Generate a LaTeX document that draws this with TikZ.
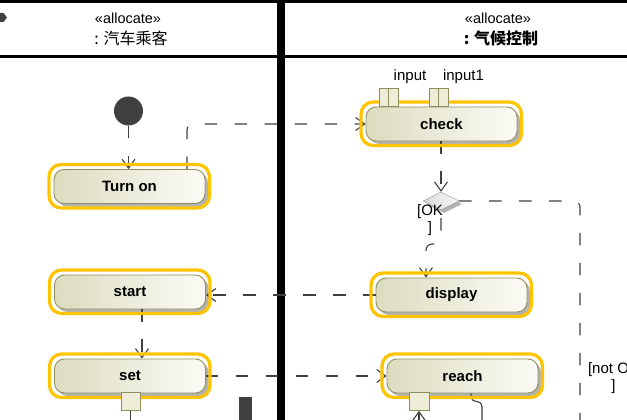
\documentclass[tikz,border=0pt]{standalone}
\usepackage{fontspec}
\setmainfont{Liberation Sans}
\newfontfamily\cjk{Noto Sans CJK SC}
\usepackage{tikz}
\usetikzlibrary{arrows.meta,shadows,shapes.geometric}
\definecolor{hilite}{HTML}{FFC400}
\definecolor{pillL}{HTML}{DCDCC0}
\definecolor{pillR}{HTML}{FBFBF5}
\definecolor{pillB}{HTML}{8F8F60}
\definecolor{flow}{HTML}{404040}
\definecolor{pinF}{HTML}{EEEED8}

\begin{document}
\begin{tikzpicture}[x=1pt,y=-1pt,
		action/.style={rectangle,rounded corners=10pt,draw=pillB,line width=.9pt,left color=pillL,right color=pillR,
			minimum width=151pt,minimum height=34pt,font=\fontsize{15}{17}\selectfont\bfseries,
			drop shadow={shadow xshift=3pt,shadow yshift=-3pt,fill=black!30,opacity=1}},
		flowline/.style={draw=flow,line width=1.1pt,dash pattern=on 12.5pt off 17.5pt,-{Straight Barb[length=9pt,width=13pt]}},
		pinbox/.style={draw=pillB,fill=pinF,line width=.8pt,minimum width=19pt,minimum height=18pt,inner sep=0pt},
		lbl/.style={font=\fontsize{15}{17}\selectfont,align=center,inner sep=0pt}]
		\useasboundingbox (0,0) rectangle (627,420);
		\clip (0,0) rectangle (627,420);
		\draw[line width=3pt] (0,1.5) -- (627,1.5);
		\draw[line width=3pt] (0,56.5) -- (627,56.5);
		\fill (276.5,0) rectangle (285,420);
		\fill[flow] (0,13) -- (3.5,13) -- (7,17.5) -- (3.5,22) -- (0,22) -- cycle;
		\node[lbl,font=\fontsize{14.5}{17}\selectfont] (lstereo) at (128,18.5) {«allocate»};
		\node[lbl,font=\fontsize{16}{18}\cjk] (lname) at (131,38.5) {: 汽车乘客};
		\node[lbl,font=\fontsize{14.5}{17}\selectfont] (rstereo) at (498,18.5) {«allocate»};
		\node[lbl,font=\fontsize{16}{18}\cjk\bfseries] (rname) at (501,38.5) {: 气候控制};

		\node[circle,fill=flow,minimum size=29pt,inner sep=0pt] (init) at (128.5,111) {};
		\node[action] (turnon) at (129.5,186.5) {Turn on};
		\node[action] (start) at (130,292) {start};
		\node[action] (set) at (130,376) {set};
		\node[action] (check) at (441.5,124) {check};
		\node[action] (display) at (451.5,295) {display};
		\node[action] (reach) at (462.5,376) {reach};
		\node[diamond,draw=gray!80,left color=gray!30,right color=gray!5,minimum width=36pt,minimum height=18pt,inner sep=0pt,
			drop shadow={shadow xshift=3pt,shadow yshift=-3pt,fill=black!30,opacity=1}] (dec) at (441,201) {};
		\node[fill=flow,minimum width=13pt,minimum height=30pt,inner sep=0pt,anchor=north] (fork) at (245.5,397) {};

		\coordinate (okbend) at (426,244);
		\coordinate (notend) at (580,440);
		\coordinate (outend) at (130.5,425);
		\coordinate (reachsrc) at (419,425);
		\coordinate (waveend) at (482,425);

		\draw[flowline] (init) -- (init |- turnon.north);
		\draw[flowline,rounded corners=6pt] ([xshift=57.5pt]turnon.north) |- (check.west);
		\draw[flowline] (check.south -| dec) -- (dec.north);
		\draw[flowline,rounded corners=6pt] ([yshift=-8pt]dec.south) |- (okbend) -- (okbend |- display.north);
		\draw[flowline,rounded corners=6pt] (dec.east) -| (notend);
		\draw[flowline] (display.west) -- (start.east |- display.west);
		\draw[flowline] ([xshift=12pt]start.south) -- ([xshift=12pt]set.north);
		\draw[flowline] (set.east) -- (reach.west);
		\draw[flow,line width=1.1pt,rounded corners=5pt] ([xshift=8.5pt]reach.south) -- ++(0,8) -| (waveend);

		\foreach \n in {turnon,start,set,check,display,reach}
			\draw[hilite,line width=3.3pt,rounded corners=12pt] ([shift={(-4.5pt,4.5pt)}]\n.north west) rectangle ([shift={(4pt,-4pt)}]\n.south east);

		\node[pinbox,anchor=south] (in1) at (388.5,107) {};
		\node[pinbox,anchor=south] (in2) at (438.5,107) {};
		\foreach \p in {in1,in2}
			\draw[pillB,line width=.8pt] (\p.north) -- (\p.south);
		\node[lbl] (in1lbl) at (410,77) {input};
		\node[lbl] (in2lbl) at (463.5,77) {input1};
		\node[pinbox,anchor=north] (setout) at (130.5,392) {};
		\draw[flow,line width=1.1pt] (setout.south) -- (outend);
		\node[pinbox,anchor=north,minimum width=20pt] (reachin) at (419,392) {};
		\draw[flow,line width=1.1pt,-{Straight Barb[length=9pt,width=13pt]}] (reachsrc) -- (reachin.south);

		\node[lbl] (ok) at (430,220) {[OK\\]};
		\node[lbl] (notok) at (613.5,378) {[not OK\\]};
	\end{tikzpicture}
\end{document}
